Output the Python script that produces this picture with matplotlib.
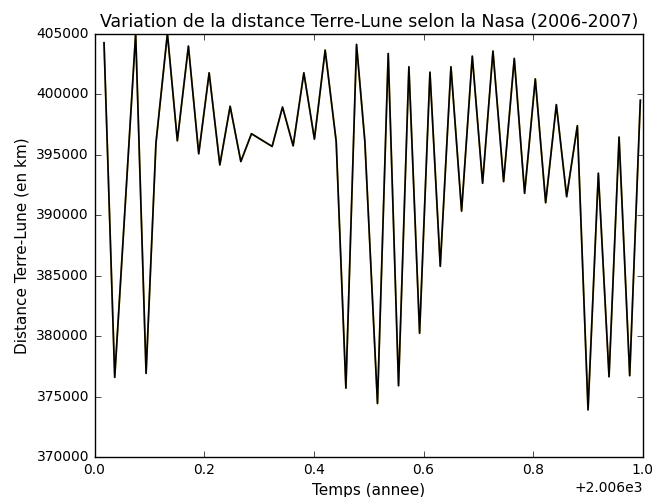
import numpy as np
import matplotlib
matplotlib.use('Agg')
import matplotlib.pyplot as plt

plt.style.use('classic')

# fraction of year 2006 and Earth-Moon distance in km
temps = [0.0173, 0.0368, 0.0750, 0.0940, 0.1120, 0.1329, 0.1510, 0.1712,
         0.1900, 0.2090, 0.2285, 0.2473, 0.2668, 0.2862, 0.3239, 0.3428,
         0.3622, 0.3817, 0.4010, 0.4206, 0.4407, 0.4584, 0.4778, 0.4930,
         0.5160, 0.5356, 0.5544, 0.5733, 0.5928, 0.6117, 0.6305, 0.6500,
         0.6694, 0.6889, 0.7077, 0.7266, 0.7460, 0.7655, 0.7843, 0.8038,
         0.8227, 0.8422, 0.8610, 0.8805, 0.9000, 0.9188, 0.9383, 0.9566,
         0.9760, 0.9954]
distance = [404280, 376590, 405050, 376920, 395970, 405050, 396170, 404000,
            395090, 401790, 394170, 399020, 394450, 396750, 395700, 398960,
            395750, 401790, 396310, 403670, 396110, 375700, 404140, 396100,
            374430, 403390, 375900, 402290, 380240, 401840, 385780, 402290,
            390350, 403170, 392650, 403590, 392790, 402980, 391820, 401290,
            391040, 399160, 391540, 397410, 373900, 393480, 376640, 396470,
            376730, 399520]

annee = 2006
x = np.array(temps) + annee
y = np.array(distance)

fig = plt.figure(figsize=(6.52, 4.97), dpi=100)
ax = fig.add_axes([0.145, 0.0805, 0.841, 0.851])

# yellow curve under the black one, only a thin edge shows
ax.plot(x, y, color='#b8a040', linewidth=1.3)
ax.plot(x, y, color='k', linewidth=1.2)

ax.set_xlim(2006.0, 2007.0)
ax.set_ylim(370000, 405000)
ax.set_xticks([2006.0, 2006.2, 2006.4, 2006.6, 2006.8, 2007.0])
ax.set_yticks(np.arange(370000, 405001, 5000))
ax.ticklabel_format(axis='x', useOffset=2006)

ax.tick_params(labelsize=10)
ax.xaxis.get_offset_text().set_fontsize(10)
ax.set_title('Variation de la distance Terre-Lune selon la Nasa (2006-2007)', fontsize=12.5)
ax.set_xlabel('Temps (annee)', fontsize=11)
ax.set_ylabel('Distance Terre-Lune (en km)', fontsize=11)

fig.savefig('out.png', dpi=100)
